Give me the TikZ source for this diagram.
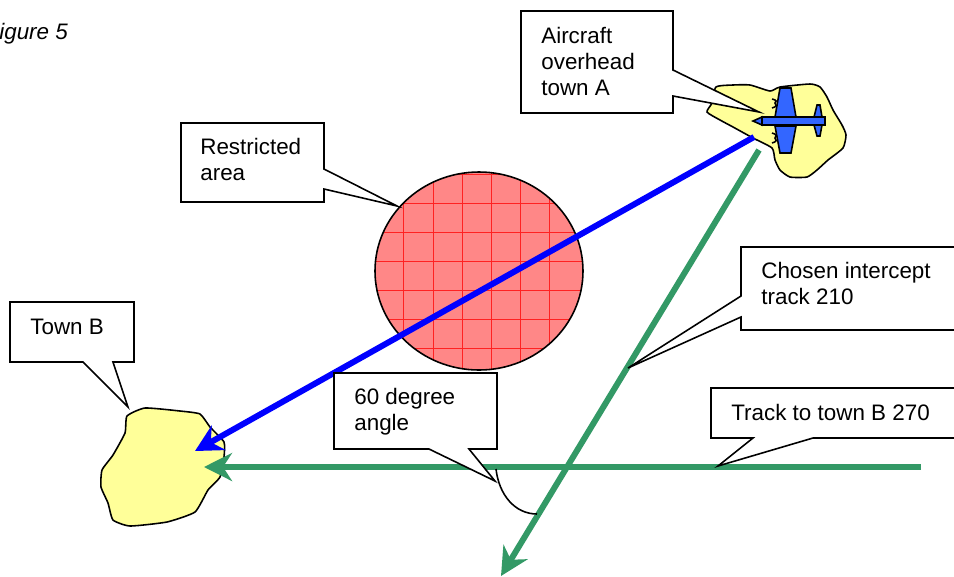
\documentclass[tikz,border=0pt]{standalone}
\usepackage{fontspec}
\setmainfont{Liberation Sans}
\usepackage{xcolor}
\usetikzlibrary{arrows.meta}
\definecolor{townyellow}{RGB}{255,255,153}
\definecolor{trackgreen}{RGB}{51,153,102}
\definecolor{planeblue}{RGB}{51,102,255}
\definecolor{areared}{RGB}{255,135,135}

\begin{document}
\begin{tikzpicture}[
  x=0.02cm, y=-0.02cm,
  town/.style={draw=black, line width=0.9pt, fill=townyellow},
  callout/.style={draw=black, line width=0.9pt, fill=white, line join=miter},
  plane/.style={draw=black, line width=0.9pt, fill=planeblue},
  txt/.style={anchor=base west, align=left, inner sep=0pt, font=\fontsize{12.75}{14.8}\selectfont},
  bluetrack/.style={-{Stealth[length=5.4mm, width=5.6mm, inset=1.8mm]}, line width=3.4pt, blue},
  greentrack/.style={-{Stealth[length=5.6mm, width=5.6mm, inset=1.8mm]}, line width=3.4pt, trackgreen}
]
\clip (0,0) rectangle (954,576);

\node[txt, font=\fontsize{12.75}{14.8}\selectfont\itshape] (caption) at (-1,39) {igure 5};

% towns
\draw[town] plot[smooth cycle, tension=0.35] coordinates {(716,87) (733,85) (750,85) (770,91) (780,87) (810,84) (820,87) (827,97) (833,110) (842,125) (846,135) (843,148) (828,160) (817,170) (807,177) (790,177) (780,170) (775,160) (772,148) (753,138) (733,127) (720,120) (707,112) (712,103)};
\draw[town] plot[smooth cycle, tension=0.3] coordinates {(127,416) (145,408) (180,411) (200,414) (210,427) (224,442) (224,457) (220,477) (208,490) (195,512) (167,522) (130,526) (113,520) (108,503) (101,487) (102,470) (113,455) (125,433)};

% restricted area
\begin{scope}
\clip (479,271) ellipse [x radius=104, y radius=99];
\fill[areared] (370,165) rectangle (590,375);
\foreach \gx in {403,433,462,491,520,549}
  \draw[red!75!areared, line width=0.35pt] (\gx,165) -- (\gx,375);
\foreach \gy in {174,203,232,261,290,319,348}
  \draw[red!75!areared, line width=0.35pt] (370,\gy) -- (590,\gy);
\end{scope}
\draw[black, line width=0.9pt] (479,271) ellipse [x radius=104, y radius=99];

% tracks
\coordinate (overhead) at (754,137);
\coordinate (townb) at (195,451);
\coordinate (intercept) at (759,150);
\coordinate (interceptend) at (501,576);
\coordinate (trackstart) at (921,467);
\coordinate (trackend) at (204,467);
\draw[bluetrack] (overhead) -- (townb);
\draw[greentrack] (trackstart) -- (trackend);
\draw[greentrack] (intercept) -- (interceptend);

% angle
\coordinate (anglea) at (496,469);
\coordinate (angleb) at (537,514);
\draw[black, line width=0.9pt] (anglea) .. controls (499,495) and (515,514) .. (angleb);

% aircraft
\draw[plane] (775,117) -- (780,88) -- (791,88) -- (796,117) -- cycle;
\draw[plane] (775,126) -- (796,126) -- (791,153) -- (780,153) -- cycle;
\draw[plane] (814,117) -- (817,105) -- (820,105) -- (822,117) -- cycle;
\draw[plane] (814,125) -- (822,125) -- (820,136) -- (817,136) -- cycle;
\draw[plane] (762,117) rectangle (825,125);
\draw[plane] (762,117) -- (753,121) -- (762,125) -- cycle;
\draw[black, line width=0.9pt] (772,99) .. controls (777,100) and (777,102) .. (775,103) .. controls (777,104) and (777,107) .. (772,108);
\draw[black, line width=0.9pt] (772,133) .. controls (777,134) and (777,137) .. (775,138) .. controls (777,139) and (777,142) .. (772,143);

% callouts
\draw[callout] (521,11) -- (673,11) -- (673,70) -- (759,112) -- (673,96) -- (673,113) -- (521,113) -- cycle;
\draw[callout] (181,123) -- (324,123) -- (324,169) -- (397,206) -- (324,189) -- (324,202) -- (181,202) -- cycle;
\draw[callout] (10,302) -- (134,302) -- (134,362) -- (113,362) -- (128,407) -- (83,362) -- (10,362) -- cycle;
\draw[callout] (334,373) -- (497,373) -- (497,449) -- (469,449) -- (495,481) -- (429,449) -- (334,449) -- cycle;
\draw[callout] (741,247) -- (960,247) -- (960,330) -- (741,330) -- (741,317) -- (628,368) -- (741,296) -- cycle;
\draw[callout] (711,388) -- (960,388) -- (960,438) -- (813,438) -- (718,466) -- (753,438) -- (711,438) -- cycle;

\node[txt] (aircraft) at (541,95) {Aircraft\\overhead\\town A};
\node[txt] (restricted) at (200,180) {Restricted\\area};
\node[txt] (townblabel) at (30,334) {Town B};
\node[txt] (anglelabel) at (354,430) {60 degree\\angle};
\node[txt] (chosen) at (761,304) {Chosen intercept\\track 210};
\node[txt] (tracklabel) at (731,420) {Track to town B 270};
\end{tikzpicture}
\end{document}
